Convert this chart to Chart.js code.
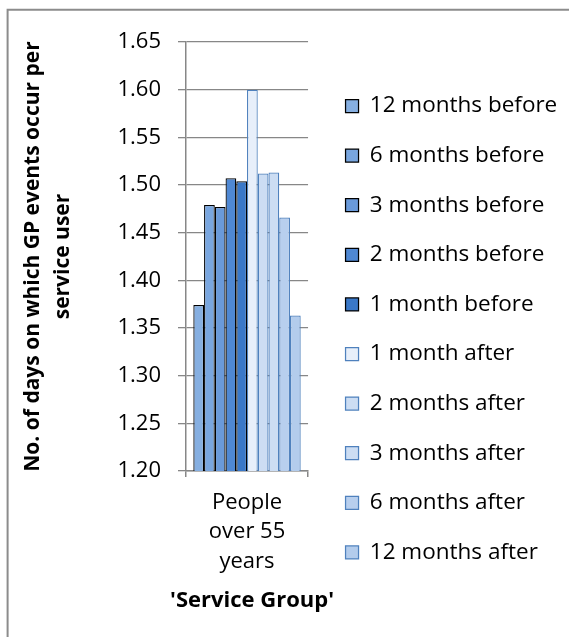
<!DOCTYPE html>
<html>
<head>
<meta charset="utf-8">
<script src="https://cdn.jsdelivr.net/npm/chart.js@4.4.1/dist/chart.umd.min.js"></script>
<style>
  html, body { margin: 0; padding: 0; background: #ffffff; }
  canvas { display: block; }
</style>
</head>
<body>
<canvas id="gpChart" width="569" height="637"></canvas>
<script>
// GP event days per service user, before and after contact
const categories = [['People', 'over 55', 'years']];
const periods = [
  '12 months before', '6 months before', '3 months before', '2 months before', '1 month before',
  '1 month after', '2 months after', '3 months after', '6 months after', '12 months after'
];
const daysPerUser = [1.374, 1.479, 1.477, 1.507, 1.504, 1.600, 1.512, 1.513, 1.466, 1.363];
const yRange = { min: 1.20, max: 1.65, step: 0.05 };
const xTitle = "'Service Group'";
const yTitle = ['No. of days on which GP events occur per', 'service user'];

// styling
const fills = ['#86AFE1', '#79A6DF', '#6A9ADA', '#4F88D3', '#3A78C8',
               '#E7EFFA', '#CCDDF3', '#CCDDF3', '#B8CFEE', '#B3CCEC'];
const edges = ['#000000', '#000000', '#000000', '#000000', '#000000',
               '#4F81BD', '#4F81BD', '#4F81BD', '#4F81BD', '#4F81BD'];
const gridGrey = '#878787';
const fontFamily = '"Open Sans", sans-serif';

Chart.defaults.font.family = fontFamily;
Chart.defaults.color = '#000000';

// outer frame of the chart panel
const framePlugin = {
  id: 'panelFrame',
  beforeDraw(chart) {
    const ctx = chart.ctx;
    ctx.save();
    ctx.strokeStyle = '#8c8c8c';
    ctx.lineWidth = 2;
    ctx.beginPath();
    ctx.moveTo(7.6, chart.height + 5);
    ctx.lineTo(7.6, 9.8);
    ctx.lineTo(chart.width + 5, 9.8);
    ctx.stroke();
    ctx.restore();
  }
};

// category-axis caption, drawn at full width below the tick labels
// (the built-in scale title would be squeezed to the narrow plot width)
const xCaptionPlugin = {
  id: 'xCaption',
  afterDraw(chart) {
    const x = chart.scales.x;
    const ctx = chart.ctx;
    ctx.save();
    ctx.font = 'bold 22px ' + fontFamily;
    ctx.fillStyle = '#000000';
    ctx.textAlign = 'center';
    ctx.textBaseline = 'middle';
    ctx.fillText(xTitle, (x.left + x.right) / 2 + 5, x.bottom - 15.4);
    ctx.restore();
  }
};

const datasets = periods.map((label, i) => ({
  label,
  data: [daysPerUser[i]],
  backgroundColor: fills[i],
  borderColor: edges[i],
  borderWidth: 1.25,
  borderSkipped: false,
  categoryPercentage: 0.88,
  barPercentage: 1.0
}));

new Chart(document.getElementById('gpChart'), {
  type: 'bar',
  data: { labels: categories, datasets },
  plugins: [framePlugin, xCaptionPlugin],
  options: {
    responsive: false,
    animation: false,
    devicePixelRatio: 1,
    layout: { padding: { top: 42, bottom: 20.6, left: 8, right: 1.75 } },
    plugins: {
      tooltip: { enabled: false },
      legend: {
        position: 'right',
        align: 'center',
        maxWidth: 249.6,
        labels: {
          font: { size: 22.5 },
          color: '#000000',
          boxWidth: 13,
          boxHeight: 13,
          padding: 27.1
        }
      }
    },
    scales: {
      x: {
        grid: {
          display: true,
          drawOnChartArea: false,
          offset: true,
          color: gridGrey,
          lineWidth: 1.5,
          tickLength: 6
        },
        border: { display: true, color: gridGrey, width: 1.5 },
        ticks: {
          font: { size: 22, lineHeight: 1.35 },
          color: '#000000',
          padding: 10.6,
          maxRotation: 0
        },
        title: { display: false },
        afterFit(scale) { scale.height = 145.4; }
      },
      y: {
        min: yRange.min,
        max: yRange.max,
        grid: {
          color: gridGrey,
          lineWidth: 1.3,
          tickLength: 8
        },
        border: { display: true, color: gridGrey, width: 1.5 },
        ticks: {
          stepSize: yRange.step,
          font: { size: 22 },
          color: '#000000',
          padding: 17,
          callback: (v) => v.toFixed(2)
        },
        title: {
          display: true,
          text: yTitle,
          font: { size: 21, weight: 'bold', lineHeight: 1.43 },
          color: '#000000',
          padding: { top: 10, bottom: 0 }
        },
        afterFit(scale) { scale.width = 178; }
      },
      legendGap: {
        type: 'linear',
        position: 'right',
        display: true,
        grid: { display: false },
        ticks: { display: false },
        border: { display: false },
        title: { display: false },
        afterFit(scale) { scale.width = 10.4; }
      }
    }
  }
});
</script>
</body>
</html>
